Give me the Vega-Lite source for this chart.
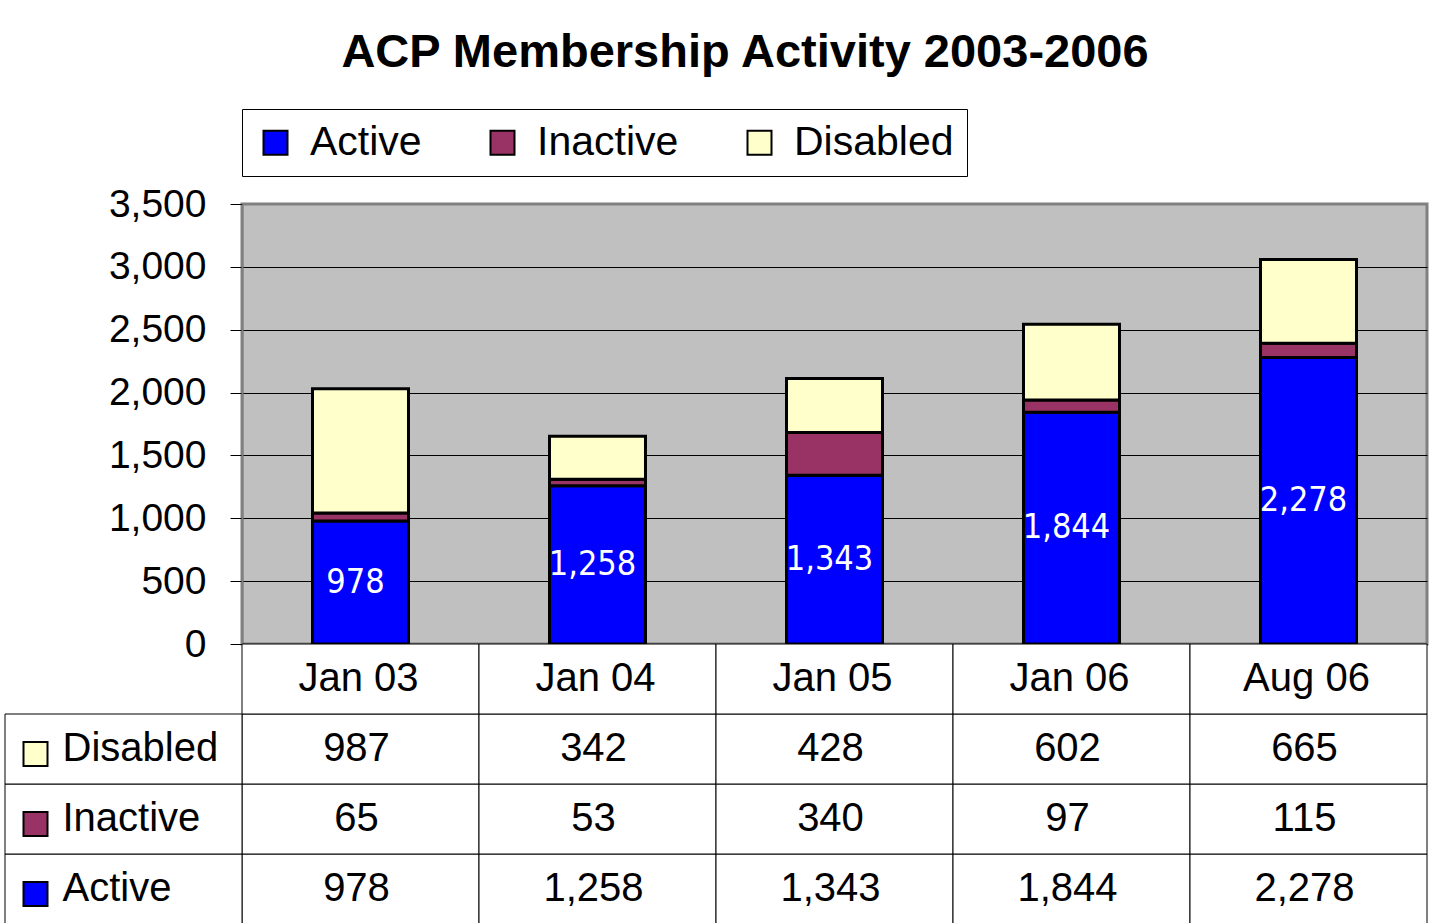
{
  "$schema": "https://vega.github.io/schema/vega-lite/v6.json",
  "background": "white",
  "padding": {"left": 3, "top": 29, "right": 0, "bottom": 0},
  "spacing": 0,
  "bounds": "flush",
  "title": {
    "text": "ACP Membership Activity 2003-2006",
    "font": "Liberation Sans",
    "fontSize": 47,
    "fontWeight": "bold",
    "color": "black",
    "anchor": "middle",
    "baseline": "alphabetic",
    "offset": -7,
    "dx": 29
  },
  "config": {"view": {"stroke": null}, "font": "Liberation Sans"},
  "datasets": {
    "acp": [
      {"period": "Jan 03", "series": "Active", "value": 978},
      {"period": "Jan 03", "series": "Inactive", "value": 65},
      {"period": "Jan 03", "series": "Disabled", "value": 987},
      {"period": "Jan 04", "series": "Active", "value": 1258},
      {"period": "Jan 04", "series": "Inactive", "value": 53},
      {"period": "Jan 04", "series": "Disabled", "value": 342},
      {"period": "Jan 05", "series": "Active", "value": 1343},
      {"period": "Jan 05", "series": "Inactive", "value": 340},
      {"period": "Jan 05", "series": "Disabled", "value": 428},
      {"period": "Jan 06", "series": "Active", "value": 1844},
      {"period": "Jan 06", "series": "Inactive", "value": 97},
      {"period": "Jan 06", "series": "Disabled", "value": 602},
      {"period": "Aug 06", "series": "Active", "value": 2278},
      {"period": "Aug 06", "series": "Inactive", "value": 115},
      {"period": "Aug 06", "series": "Disabled", "value": 665}
    ]
  },
  "resolve": {"scale": {"color": "independent", "x": "independent", "y": "independent"}, "legend": {"color": "independent"}},
  "vconcat": [
    {
      "width": 1185,
      "height": 440,
      "data": {"name": "acp"},
      "view": {"fill": "#C0C0C0", "stroke": "#808080", "strokeWidth": 3},
      "transform": [
        {"calculate": "indexof(['Active','Inactive','Disabled'], datum.series)", "as": "stackOrder"}
      ],
      "resolve": {"scale": {"y": "independent"}},
      "layer": [
        {
          "mark": {"type": "bar", "stroke": "black", "strokeWidth": 3, "width": {"band": 0.405}},
          "encoding": {
            "x": {
              "field": "period", "type": "nominal",
              "sort": ["Jan 03", "Jan 04", "Jan 05", "Jan 06", "Aug 06"],
              "scale": {"paddingInner": 0, "paddingOuter": 0},
              "axis": null
            },
            "y": {
              "field": "value", "type": "quantitative", "stack": "zero",
              "scale": {"domain": [0, 3500], "nice": false},
              "axis": {
                "values": [0, 500, 1000, 1500, 2000, 2500, 3000, 3500],
                "format": ",.0f",
                "title": null,
                "labelFont": "Liberation Sans",
                "labelFontSize": 39,
                "labelColor": "black",
                "labelPadding": 24,
                "tickSize": 12,
                "tickColor": "black",
                "tickWidth": 1,
                "domainColor": "#808080",
                "domainWidth": 2,
                "grid": true,
                "gridColor": {"condition": {"test": "datum.value === 3500", "value": "#808080"}, "value": "black"},
                "gridWidth": 1,
                "gridOpacity": 1,
                "minExtent": 237,
                "maxExtent": 237
              }
            },
            "color": {
              "field": "series", "type": "nominal",
              "scale": {"domain": ["Active", "Inactive", "Disabled"], "range": ["#0000FF", "#993366", "#FFFFCC"]},
              "legend": {
                "orient": "none",
                "legendX": 0,
                "legendY": -95,
                "direction": "horizontal",
                "title": null,
                "labelFont": "Liberation Sans",
                "labelFontSize": 41,
                "labelColor": "black",
                "labelLimit": 400,
                "symbolType": "square",
                "symbolSize": 576,
                "symbolStrokeColor": "black",
                "symbolStrokeWidth": 2,
                "symbolOpacity": 1,
                "labelOffset": 14,
                "columnPadding": 60,
                "padding": 13,
                "strokeColor": "black",
                "fillColor": "white"
              }
            },
            "order": {"field": "stackOrder", "type": "quantitative"}
          }
        },
        {
          "transform": [{"filter": "datum.series === 'Active'"}],
          "mark": {
            "type": "text",
            "color": "white",
            "font": "Liberation Sans Narrow, Arial Narrow, DejaVu Sans Condensed, Roboto Condensed, sans-serif",
            "fontSize": 34,
            "baseline": "middle",
            "dx": -5
          },
          "encoding": {
            "x": {"field": "period", "type": "nominal", "sort": ["Jan 03", "Jan 04", "Jan 05", "Jan 06", "Aug 06"]},
            "y": {"field": "value", "type": "quantitative", "stack": null, "scale": {"domain": [0, 7000], "nice": false}, "axis": null},
            "text": {"field": "value", "type": "quantitative", "format": ","}
          }
        }
      ]
    },
    {
      "width": 1185,
      "height": 280,
      "data": {"name": "acp"},
      "layer": [
        {
          "mark": {"type": "rect", "fill": "white", "stroke": "black", "strokeWidth": 1},
          "encoding": {
            "x": {
              "field": "period", "type": "nominal",
              "scale": {"domain": ["Jan 03", "Jan 04", "Jan 05", "Jan 06", "Aug 06"], "paddingInner": 0, "paddingOuter": 0},
              "axis": null
            },
            "y": {
              "field": "series", "type": "nominal",
              "scale": {"domain": ["hdr", "Disabled", "Inactive", "Active"], "paddingInner": 0, "paddingOuter": 0},
              "axis": null
            }
          }
        },
        {
          "mark": {"type": "text", "font": "Liberation Sans", "fontSize": 40, "color": "black", "baseline": "middle", "dx": -4},
          "encoding": {
            "x": {"field": "period", "type": "nominal"},
            "y": {"field": "series", "type": "nominal"},
            "text": {"field": "value", "type": "quantitative", "format": ","}
          }
        },
        {
          "transform": [{"filter": "datum.series === 'Active'"}],
          "mark": {"type": "rect", "fill": "white", "stroke": "black", "strokeWidth": 1},
          "encoding": {
            "x": {"field": "period", "type": "nominal"},
            "y": {"datum": "hdr", "type": "nominal"}
          }
        },
        {
          "transform": [{"filter": "datum.series === 'Active'"}],
          "mark": {"type": "text", "font": "Liberation Sans", "fontSize": 40, "color": "black", "baseline": "middle", "dx": -2},
          "encoding": {
            "x": {"field": "period", "type": "nominal"},
            "y": {"datum": "hdr", "type": "nominal"},
            "text": {"field": "period", "type": "nominal"}
          }
        },
        {
          "transform": [{"filter": "datum.period === 'Jan 03'"}],
          "mark": {"type": "rect", "fill": "white", "stroke": "black", "strokeWidth": 1, "xOffset": -237},
          "encoding": {
            "x": {"field": "period", "type": "nominal"},
            "y": {"field": "series", "type": "nominal"}
          }
        },
        {
          "transform": [{"filter": "datum.period === 'Jan 03'"}],
          "mark": {"type": "text", "font": "Liberation Sans", "fontSize": 40, "color": "black", "baseline": "middle", "align": "left", "dx": -298},
          "encoding": {
            "x": {"field": "period", "type": "nominal"},
            "y": {"field": "series", "type": "nominal"},
            "text": {"field": "series", "type": "nominal"}
          }
        },
        {
          "transform": [{"filter": "datum.period === 'Jan 03'"}],
          "mark": {"type": "square", "size": 576, "stroke": "black", "strokeWidth": 2, "opacity": 1, "filled": true, "xOffset": -325, "yOffset": 5},
          "encoding": {
            "x": {"field": "period", "type": "nominal"},
            "y": {"field": "series", "type": "nominal"},
            "color": {
              "field": "series", "type": "nominal",
              "scale": {"domain": ["Active", "Inactive", "Disabled"], "range": ["#0000FF", "#993366", "#FFFFCC"]},
              "legend": null
            }
          }
        }
      ]
    }
  ]
}
